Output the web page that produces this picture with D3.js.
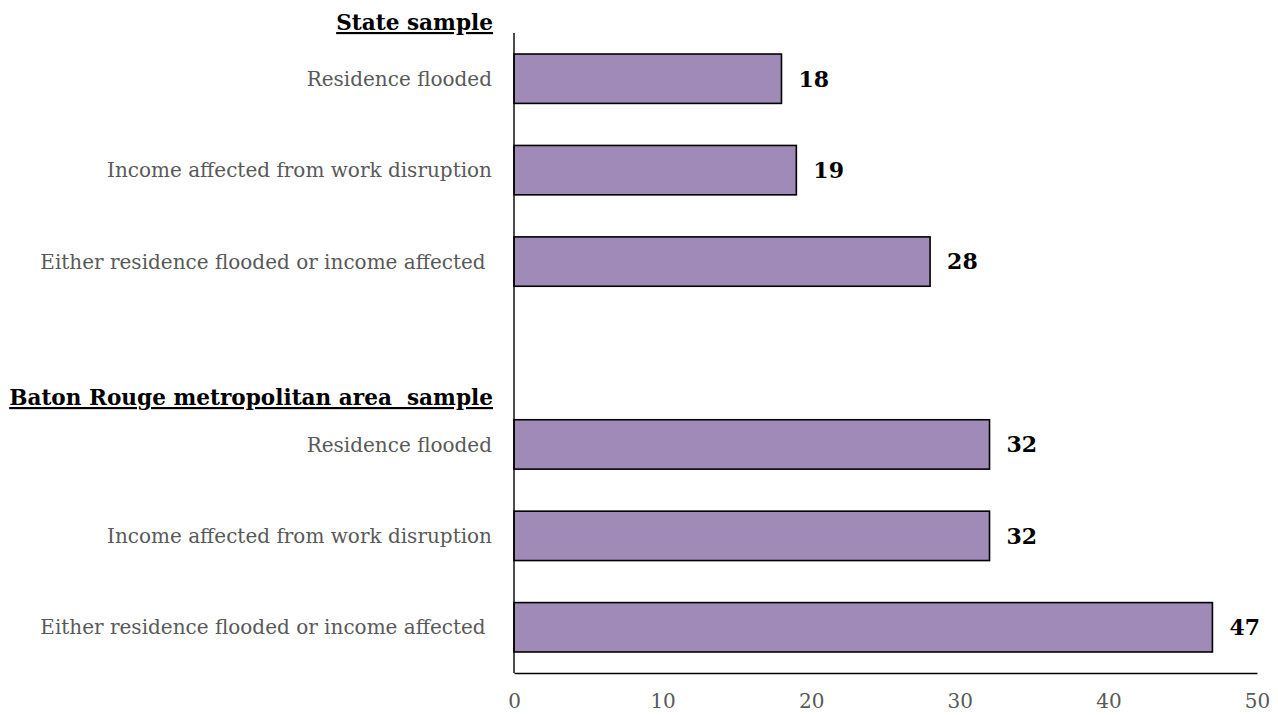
<!DOCTYPE html>
<html><head><meta charset="utf-8">
<script src="https://cdn.jsdelivr.net/npm/d3@7"></script>
<style>body{margin:0;background:#fff}svg{display:block}text{white-space:pre}</style>
</head><body><svg id="c" width="1278" height="715"></svg>
<script>
const categories = ["Residence flooded","Income affected from work disruption","Either residence flooded or income affected ","","Residence flooded","Income affected from work disruption","Either residence flooded or income affected "];
const values = [18,19,28,null,32,32,47];
const groupHeaders = ["State sample","Baton Rouge metropolitan area  sample"];
const xTicks = [0,10,20,30,40,50];

const font = "'DejaVu Serif', serif";
const svg = d3.select("#c");
const keys = categories.map((c,i)=>i);
const x = d3.scaleLinear().domain([0,50]).range([514,1257]);
const y = d3.scaleBand().domain(keys).range([33,673]).paddingInner(0.46).paddingOuter(0.23);

svg.selectAll("rect.bar").data(keys.filter(i=>values[i]!=null)).join("rect")
  .attr("x",x(0)).attr("y",i=>y(i)).attr("width",i=>x(values[i])-x(0)).attr("height",y.bandwidth())
  .attr("fill","#A08AB8").attr("stroke","#000").attr("stroke-width",1.6);

svg.selectAll("text.val").data(keys.filter(i=>values[i]!=null)).join("text")
  .attr("x",i=>x(values[i])+17).attr("y",i=>y(i)+y.bandwidth()/2).attr("dy","0.36em")
  .attr("font-family",font).attr("font-weight","bold").attr("font-size",22).attr("fill","#000")
  .text(i=>values[i]);

svg.selectAll("text.cat").data(keys).join("text")
  .attr("x",492).attr("y",i=>y(i)+y.bandwidth()/2).attr("dy","0.36em").attr("text-anchor","end")
  .attr("font-family",font).attr("font-size",20).attr("fill","#595959")
  .text(i=>categories[i]);

const hdrY = [30, 405];
groupHeaders.forEach((h,k)=>{
  svg.append("text").attr("x",493).attr("y",hdrY[k]).attr("text-anchor","end")
    .attr("font-family",font).attr("font-weight","bold").attr("font-size",21.6)
    .attr("text-decoration","underline").attr("fill","#000").text(h);
});

// axes
svg.append("line").attr("x1",x(0)).attr("x2",x(0)).attr("y1",33).attr("y2",673).attr("stroke","#000").attr("stroke-width",1.4);
const xa = svg.append("g").attr("transform","translate(0,673)").call(d3.axisBottom(x).tickValues(xTicks).tickSize(0).tickPadding(21));
xa.select(".domain").attr("stroke","#000").attr("stroke-width",1.4);
xa.selectAll("text").attr("font-family",font).attr("font-size",20).attr("fill","#595959");
</script></body></html>
